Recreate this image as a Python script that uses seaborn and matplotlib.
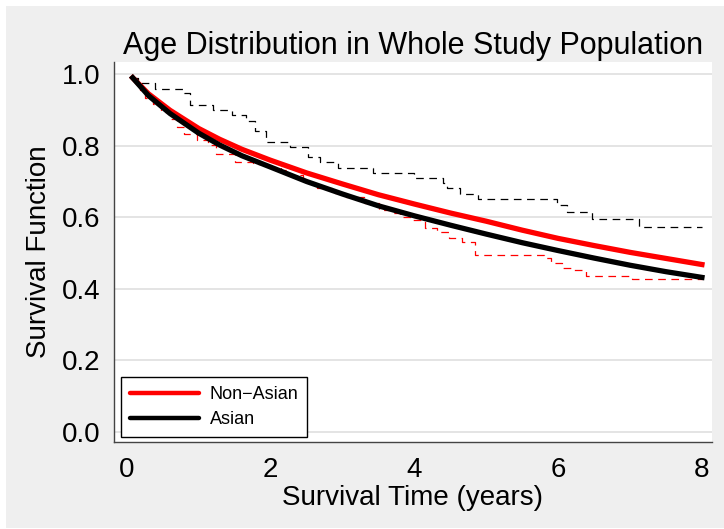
import matplotlib
matplotlib.use("Agg")
import matplotlib.pyplot as plt
import seaborn as sns
from matplotlib.patches import Rectangle
from matplotlib.lines import Line2D

# Fitted (parametric) survival curves
fit_time = [0.08, 0.3, 0.6, 1.0, 1.29, 1.6, 1.99, 2.5, 3.0, 3.5, 4.0, 4.5,
            5.0, 5.5, 6.0, 6.5, 7.0, 7.5, 8.0]
fit_non_asian = [0.990, 0.945, 0.899, 0.848, 0.818, 0.790, 0.760, 0.724, 0.693,
                 0.663, 0.637, 0.612, 0.589, 0.564, 0.541, 0.521, 0.502, 0.485, 0.468]
fit_asian = [0.990, 0.940, 0.890, 0.835, 0.802, 0.772, 0.741, 0.700, 0.665,
             0.632, 0.604, 0.578, 0.553, 0.529, 0.507, 0.486, 0.466, 0.448, 0.432]

# Kaplan-Meier estimates
km_non_asian_t = [0.08, 0.12, 0.18, 0.25, 0.36, 0.48, 0.60, 0.70, 0.80, 0.98, 1.13,
                  1.24, 1.50, 1.75, 1.90, 2.15, 2.25, 2.45, 2.65, 2.85, 3.05, 3.30,
                  3.50, 3.68, 3.80, 3.95, 4.15, 4.31, 4.48, 4.66, 4.84, 5.80, 5.90,
                  6.05, 6.20, 6.38, 7.03, 8.00]
km_non_asian_s = [0.990, 0.975, 0.955, 0.932, 0.918, 0.895, 0.876, 0.853, 0.834, 0.816,
                  0.802, 0.778, 0.755, 0.750, 0.741, 0.732, 0.718, 0.700, 0.681, 0.667,
                  0.657, 0.639, 0.620, 0.611, 0.601, 0.592, 0.570, 0.559, 0.541, 0.532,
                  0.496, 0.485, 0.471, 0.458, 0.453, 0.436, 0.427, 0.427]
km_asian_t = [0.08, 0.15, 0.39, 0.80, 0.88, 1.20, 1.46, 1.66, 1.78, 1.93, 2.27, 2.52,
              2.69, 2.94, 3.43, 4.00, 4.40, 4.45, 4.63, 4.89, 5.98, 6.12, 6.47, 7.12, 8.00]
km_asian_s = [0.990, 0.974, 0.958, 0.946, 0.915, 0.900, 0.886, 0.870, 0.842, 0.811,
              0.796, 0.768, 0.755, 0.738, 0.724, 0.709, 0.695, 0.681, 0.666, 0.650,
              0.634, 0.614, 0.595, 0.574, 0.574]

groups = ["Non\u2212Asian", "Asian"]
group_colors = ["#ff0000", "#000000"]
x_ticks = [0, 2, 4, 6, 8]
y_ticks = [0.0, 0.2, 0.4, 0.6, 0.8, 1.0]

sns.set_style("white")
plt.rcParams["font.family"] = ["Liberation Sans", "DejaVu Sans"]
plt.rcParams["lines.scale_dashes"] = False
plt.rcParams["text.color"] = "black"
plt.rcParams["axes.labelcolor"] = "black"
plt.rcParams["xtick.color"] = "black"
plt.rcParams["ytick.color"] = "black"

W, H = 724, 529
fig = plt.figure(figsize=(W / 100, H / 100), dpi=100, facecolor="white")
fig.patches.append(Rectangle((6 / W, 1 / H), 1 - 6 / W, (H - 7) / H,
                             transform=fig.transFigure, facecolor="#efefef",
                             edgecolor="none", zorder=-10))
ax = fig.add_axes([114 / W, 87 / H, 598 / W, 380 / H])
ax.set_facecolor("white")

dash = (0, (5.5, 4.0))
sns.lineplot(x=km_asian_t, y=km_asian_s, ax=ax, color="#000000", lw=0.9,
             linestyle=dash, drawstyle="steps-post", errorbar=None)
sns.lineplot(x=km_non_asian_t, y=km_non_asian_s, ax=ax, color="#ff0000", lw=0.9,
             linestyle=dash, drawstyle="steps-post", errorbar=None)
sns.lineplot(x=fit_time, y=fit_non_asian, ax=ax, color=group_colors[0], lw=3.8,
             errorbar=None, solid_capstyle="projecting")
sns.lineplot(x=fit_time, y=fit_asian, ax=ax, color=group_colors[1], lw=3.8,
             errorbar=None, solid_capstyle="projecting")

ax.set_xlim(-0.18, 8.14)
ax.set_ylim(-0.028, 1.034)
ax.set_xticks(x_ticks)
ax.set_xticklabels([str(t) for t in x_ticks])
ax.set_yticks(y_ticks)
ax.set_yticklabels([f"{t:.1f}" for t in y_ticks])
ax.yaxis.grid(True, color="#e4e4e4", lw=1.4)
ax.xaxis.grid(False)
ax.set_axisbelow(True)

for side in ["top", "right"]:
    ax.spines[side].set_visible(False)
for side in ["left", "bottom"]:
    ax.spines[side].set_color("#444444")
    ax.spines[side].set_linewidth(1.0)
ax.tick_params(axis="both", direction="out", length=5, width=0.9,
               color="#444444", labelsize=20, pad=5, labelcolor="black")
ax.tick_params(axis="x", pad=6)

ax.set_title("Age Distribution in Whole Study Population", fontsize=22, pad=6,
             color="black")
ax.set_xlabel("Survival Time (years)", fontsize=20, labelpad=1)
ax.set_ylabel("Survival Function", fontsize=20, labelpad=7)

handles = [Line2D([], [], color=c, lw=3.2) for c in group_colors]
leg = ax.legend(handles, groups, loc="lower left",
                bbox_to_anchor=(0.012, 0.013), fontsize=13, frameon=True,
                fancybox=False, handlelength=3.8, handletextpad=0.6,
                labelspacing=0.45, borderpad=0.5, borderaxespad=0.0)
for txt in leg.get_texts():
    txt.set_color("black")
leg.get_frame().set_edgecolor("black")
leg.get_frame().set_linewidth(1.0)
leg.get_frame().set_facecolor("white")
leg.get_frame().set_alpha(1.0)

fig.savefig("out.png", dpi=100, facecolor=fig.get_facecolor())
